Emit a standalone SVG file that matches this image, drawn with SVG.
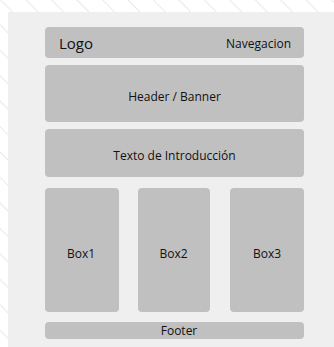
<svg xmlns="http://www.w3.org/2000/svg" width="334" height="347" viewBox="0 0 334 347">
<defs>
<pattern id="stripes" patternUnits="userSpaceOnUse" width="18" height="18" patternTransform="rotate(-45)">
<rect width="18" height="18" fill="#ffffff"/>
<line x1="0" y1="0" x2="0" y2="18" stroke="#e2e2e2" stroke-width="1.5"/>
</pattern>
</defs>
<style>
.box{fill:#c0c0c0;}
.t{font-family:"Open Sans","Noto Sans","Liberation Sans",sans-serif;fill:#111111;text-anchor:middle;font-size:12px;}
</style>
<rect x="0" y="0" width="334" height="347" fill="url(#stripes)"/>
<rect id="panel" x="8" y="12" width="326" height="335" fill="#efefef"/>
<g id="connectors"></g>
<g id="nav">
<rect class="box" x="45" y="27" width="259" height="31" rx="4"/>
<text class="t" x="59" y="48.5" style="text-anchor:start;font-size:15px">Logo</text>
<text class="t" x="291" y="48" style="text-anchor:end">Navegacion</text>
</g>
<g id="header">
<rect class="box" x="45" y="65" width="259" height="57" rx="4"/>
<text class="t" x="174.5" y="101">Header / Banner</text>
</g>
<g id="intro">
<rect class="box" x="45" y="129" width="259" height="48" rx="4"/>
<text class="t" x="174.5" y="160">Texto de Introducción</text>
</g>
<g id="box1">
<rect class="box" x="45" y="188" width="74" height="124" rx="4"/>
<text class="t" x="81" y="258">Box1</text>
</g>
<g id="box2">
<rect class="box" x="138" y="188" width="72" height="124" rx="4"/>
<text class="t" x="173.5" y="258">Box2</text>
</g>
<g id="box3">
<rect class="box" x="230" y="188" width="74" height="124" rx="4"/>
<text class="t" x="267" y="258">Box3</text>
</g>
<g id="footer">
<rect class="box" x="45" y="322" width="259" height="17" rx="4"/>
<text class="t" x="179" y="335">Footer</text>
</g>
</svg>
